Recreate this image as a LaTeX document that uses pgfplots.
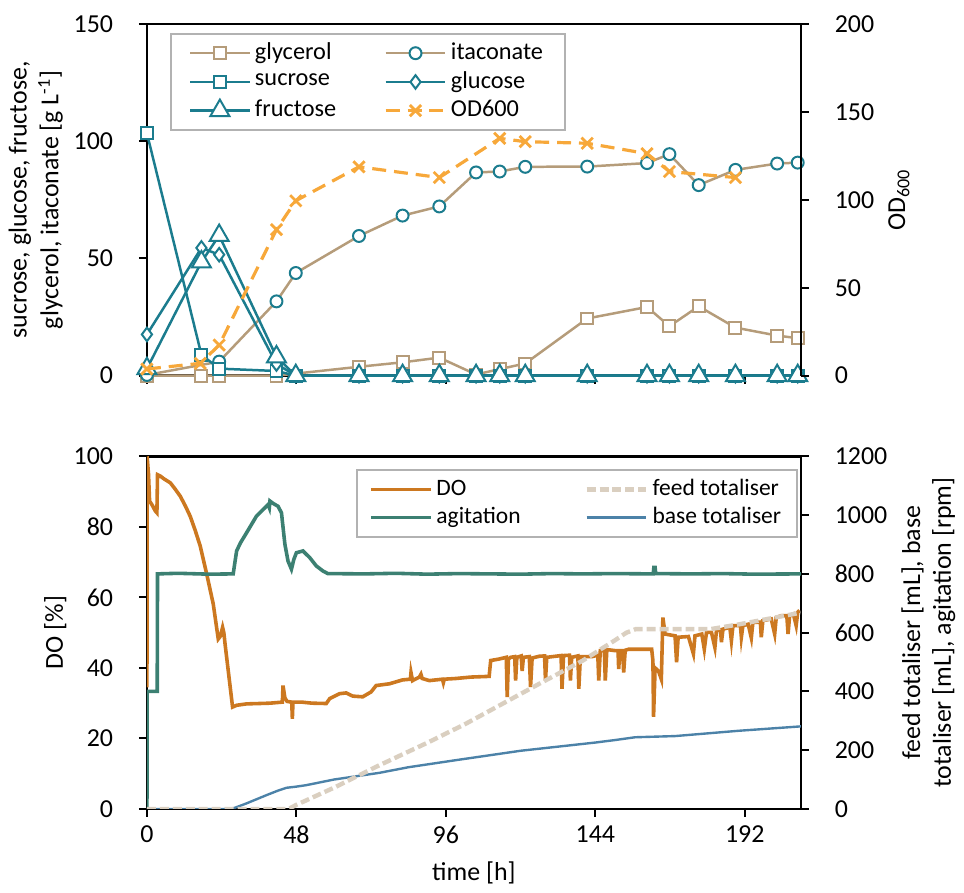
\documentclass[border=0pt]{standalone}
\usepackage{fontspec}
\setmainfont{Carlito}
\usepackage{pgfplots}
\pgfplotsset{compat=1.18}

\definecolor{cTan}{RGB}{181,156,122}
\definecolor{cTeal}{RGB}{27,124,142}
\definecolor{cOD}{RGB}{247,168,58}
\definecolor{cDO}{RGB}{204,120,32}
\definecolor{cAg}{RGB}{60,128,114}
\definecolor{cBase}{RGB}{76,130,168}
\definecolor{cFeed}{RGB}{218,207,192}

\pgfplotsset{
  panel/.style={scale only axis, width=328.25pt, xmin=0, xmax=210,
    xtick={0,48,96,144,192}, tick align=outside, major tick length=4pt,
    every tick/.style={black, line width=1pt},
    axis line style={line width=1.2pt},
    /pgf/number format/assume math mode=true,
    /pgf/number format/1000 sep={},
    legend cell align=left,
    legend image code/.code={\draw[mark repeat=2,mark phase=2,##1] plot coordinates {(0pt,0pt) (15pt,0pt) (30pt,0pt)};},
  },
  lefty/.style={xtick pos=left, ytick pos=left, yticklabel style={xshift=-8.5pt}},
  righty/.style={axis x line=none, axis y line*=right, yticklabel style={xshift=8.5pt}},
  mk/.style={mark options={fill=white, solid, line width=1pt}},
  gly/.style={color=cTan, line width=1.25pt, mark=square*, mark size=3pt, mk},
  ita/.style={draw=cTan, line width=1.25pt, mark=*, mark size=3pt, mark options={fill=white, draw=cTeal, solid, line width=1pt}},
  suc/.style={color=cTeal, line width=1.25pt, mark=square*, mark size=3pt, mk},
  glu/.style={color=cTeal, line width=1.25pt, mark=diamond*, mark size=3.4pt, mk},
  fru/.style={color=cTeal, line width=1.25pt, mark=triangle*, mark size=5.5pt, mk},
  od/.style={color=cOD, line width=1.6pt, dash pattern=on 7pt off 4pt, mark=x, mark size=4pt, mark options={solid, line width=1.4pt}},
  doS/.style={color=cDO, line width=1.8pt},
  agS/.style={color=cAg, line width=1.8pt},
  baseS/.style={color=cBase, line width=1.2pt},
  feedS/.style={color=cFeed, line width=2.2pt, dash pattern=on 4.5pt off 2pt},
}

\begin{document}
\fontsize{13}{15.6}\selectfont
\begin{tikzpicture}
% ---------- top panel: substrates / product ----------
\begin{axis}[panel, lefty, at={(0,217.5pt)}, height=176.5pt, clip=false,
    ymin=0, ymax=150, ytick={0,50,100,150}, xticklabels={},
    every axis y label/.style={at={(axis description cs:-0.17,0.5)}, rotate=90, anchor=center, align=center, font=\fontsize{13}{16}\selectfont},
    ylabel={sucrose, glucose, fructose,\\glycerol, itaconate [g L\textsuperscript{-1}]}]
\addplot[gly] coordinates {(0,0)(17.5,0)(23.2,0)(41.6,0)(68.1,3.8)(82.1,5.7)(93.9,7.7)(105.7,0.5)(113.3,2.8)(121.5,5.2)(141.4,24.4)(160.6,29.3)(167.8,21.1)(177.2,29.6)(189,20.5)(202.4,17.1)(209,16.0)};
\addplot[ita] coordinates {(0,0.3)(23.2,6)(41.6,31.7)(47.8,43.8)(68.1,59.6)(82.1,68.3)(93.9,72.2)(105.7,86.7)(113.3,87.1)(121.5,89.1)(141.4,89.2)(160.6,90.7)(167.8,94.5)(177.2,81.3)(189,87.8)(202.4,90.5)(209,90.9)};
\addplot[suc] coordinates {(0,103.4)(17.5,8.9)(23.2,3)(41.6,2)(47.8,0)(68.1,0)(82.1,0)(93.9,0)(105.7,0)(113.3,0)(121.5,0)(141.4,0)(160.6,0)(167.8,0)(177.2,0)(189,0)(202.4,0)(209,0)};
\addplot[glu] coordinates {(0,17.6)(17.5,54.5)(23.2,51.6)(41.6,5)(47.8,0)(68.1,0)(82.1,0)(93.9,0)(105.7,0)(113.3,0)(121.5,0)(141.4,0)(160.6,0)(167.8,0)(177.2,0)(189,0)(202.4,0)(209,0)};
\addplot[fru] coordinates {(0,3)(17.5,48.5)(23.2,59.8)(41.6,8)(47.8,0)(68.1,0)(82.1,0)(93.9,0)(105.7,0)(113.3,0)(121.5,0)(141.4,0)(160.6,0)(167.8,0)(177.2,0)(189,0)(202.4,0)(209,0)};
\end{axis}
\begin{axis}[panel, righty, at={(0,217.5pt)}, height=176.5pt, clip=false,
    ymin=0, ymax=200, ytick={0,50,100,150,200},
    every axis y label/.style={at={(axis description cs:1.150,0.5)}, rotate=90, anchor=center},
    ylabel={OD\textsubscript{600}},
    legend columns=2,
    legend style={at={(0.035,0.975)}, anchor=north west, draw=black!30, line width=1pt,
      font=\fontsize{12.2}{14}\selectfont,
      inner xsep=9pt, inner ysep=2.5pt, row sep=0pt,
      /tikz/every even column/.append style={column sep=22pt}}]
\addlegendimage{gly}\addlegendentry{glycerol}
\addlegendimage{ita}\addlegendentry{itaconate}
\addlegendimage{suc}\addlegendentry{sucrose}
\addlegendimage{glu}\addlegendentry{glucose}
\addlegendimage{fru}\addlegendentry{fructose}
\addplot[od] coordinates {(0,3.8)(17.1,7)(23.2,17.4)(41.6,83.1)(47.8,99.5)(68.1,118.8)(93.9,112.7)(113.3,135)(121.5,133.1)(141.4,132.2)(160.6,126.3)(167.8,116.1)(189,112.7)};
\addlegendentry{OD600}
\end{axis}

% ---------- bottom panel: online data ----------
\begin{axis}[panel, lefty, at={(0,0)}, height=177pt,
    ymin=0, ymax=100, ytick={0,20,...,100},
    xlabel={time [h]},
    every axis y label/.style={at={(axis description cs:-0.140,0.5)}, rotate=90, anchor=center},
    ylabel={DO [\%]}]
\addplot[doS] coordinates {(0,34.5)(0.05,100)(0.5,95)(0.85,87.3)(1.6,86.3)(2.7,84.5)(3.2,84)(3.4,94.8)(4.3,94.4)(5.5,93.6)(7.5,92.5)(9,90.8)(10.7,88.7)(12.3,86)(13.9,83)(15.5,79)(17.1,74.6)(19.2,66.6)(21.3,58.1)(22.9,48.2)(23.6,49)(24.3,51.5)(24.7,50)(25.1,46.7)(27.5,28.9)(28.8,29.4)(32,29.8)(36,29.9)(39.5,30)(43.5,30.3)(43.7,35)(44.3,31.5)(45,30.5)(46.5,30.3)(46.7,25.6)(46.9,30.3)(49.7,30.3)(53,30)(57.6,29.9)(58.7,31.3)(61.9,32.7)(64,32.9)(66.1,32)(69.3,31.8)(72,33.2)(73.6,35)(77.9,35.5)(82.1,36.6)(84.6,36.8)(84.8,38.7)(85.3,36.4)(87.5,37.4)(88,38.2)(88.4,37)(90.7,36.4)(94.9,36.8)(95.2,35.8)(95.5,36.8)(99.2,37)(104,37.4)(109.9,37.6)(110.4,42.1)(113,42.5)(115.4,43)(115.7,31.7)(116.1,42.5)(116.8,43)(118.1,43.2)(118.4,36.4)(118.8,43)(120.2,43.4)(120.5,39.1)(120.9,43)(122.8,43.2)(123.2,34.6)(123.7,42.8)(126,43.3)(127.7,43.4)(128,36.4)(128.4,43)(133,43.5)(133.3,34.1)(133.8,43.5)(135.7,43.6)(136,36.4)(136.4,43)(138.4,43.4)(138.7,34.1)(139.2,43.2)(142.9,43.2)(144.8,43.6)(145.1,36.4)(145.6,44.9)(146.9,44.9)(147.2,36.4)(147.7,45.2)(150.4,44.9)(151.3,44.9)(151.5,39.7)(151.9,44.9)(152.8,44.9)(153.1,38.7)(153.6,45)(154.7,45.3)(162.1,45.3)(162.5,42)(162.7,26.1)(163.2,40)(164.3,39.1)(165.2,36.8)(165.7,54.3)(166.4,49.6)(169.6,49.1)(170.1,41.6)(170.6,48.7)(173.9,48.9)(175.5,44)(176,49.1)(178.2,49.6)(179,45.3)(179.7,50.1)(181.3,50.1)(182.4,45.8)(182.9,50.6)(184.2,50.8)(184.5,47.3)(185,51)(187.2,51.5)(187.7,47.7)(188.2,52)(190.6,52)(190.9,48.7)(191.4,52)(193.1,52.4)(194.1,48.5)(194.6,52.9)(197,53)(197.3,48.7)(197.8,53.4)(200.5,53.9)(201.6,49.6)(202.1,54.3)(203.7,54.8)(205.5,54.8)(205.9,49.6)(206.4,54.8)(207.6,55.3)(208.5,52)(209,55.8)(209.6,56.3)};
\end{axis}
\begin{axis}[panel, righty, at={(0,0)}, height=177pt,
    ymin=0, ymax=1200, ytick={0,200,...,1200},
    every axis y label/.style={at={(axis description cs:1.195,0.5)}, rotate=90, anchor=center, align=center, font=\fontsize{13}{15.5}\selectfont},
    ylabel={feed totaliser [mL], base\\totaliser [mL], agitation [rpm]},
    legend columns=2,
    legend style={at={(0.32,0.963)}, anchor=north west, draw=black!30, line width=1pt,
      font=\fontsize{11.8}{14}\selectfont,
      inner xsep=6pt, inner ysep=2.5pt, row sep=0pt,
      /tikz/every even column/.append style={column sep=30pt}}]
\addplot[agS, forget plot] coordinates {(0,0)(0.05,400)(3.3,400)(3.4,800)(10,802)(20,799)(27.7,800)(28.8,878)(30,905)(32,940)(35.2,997)(37.9,1025)(38.9,1036)(39.3,1025)(39.5,1048)(40.5,1040)(42.1,1030)(43.2,1008)(44.3,901)(45.3,844)(46.4,816)(47.2,850)(48,872)(50.1,878)(52.3,855)(54.4,827)(56.5,810)(58.1,801)(70,800)(80,802)(90,799)(100,801)(110,800)(120,799)(130,801)(140,800)(150,801)(162.6,800)(162.8,822)(163.2,822)(163.4,801)(175,800)(185,801)(195,799)(210,800)};
\addplot[baseS, forget plot] coordinates {(0,0)(25,0)(28,3)(32,19)(38.4,47)(42,62)(44.8,72)(48,76)(51.2,81)(60,100)(74.7,123)(84,142)(99.2,166)(120,198)(144,226)(150,234)(156.8,244)(169.6,248)(190,266)(210,281)};
\addplot[feedS, forget plot] coordinates {(0,0)(45,0)(46,3)(48,14)(60,72)(74.7,149)(90,225)(102.4,290)(126,426)(140,505)(150,572)(154,600)(157,612)(181,612)(190,628)(200,648)(210,668)};
\addlegendimage{doS}\addlegendentry{DO}
\addlegendimage{feedS}\addlegendentry{feed totaliser}
\addlegendimage{agS}\addlegendentry{agitation}
\addlegendimage{baseS}\addlegendentry{base totaliser}
\end{axis}
\path ([yshift=3.5pt]current bounding box.north);
\end{tikzpicture}
\end{document}
